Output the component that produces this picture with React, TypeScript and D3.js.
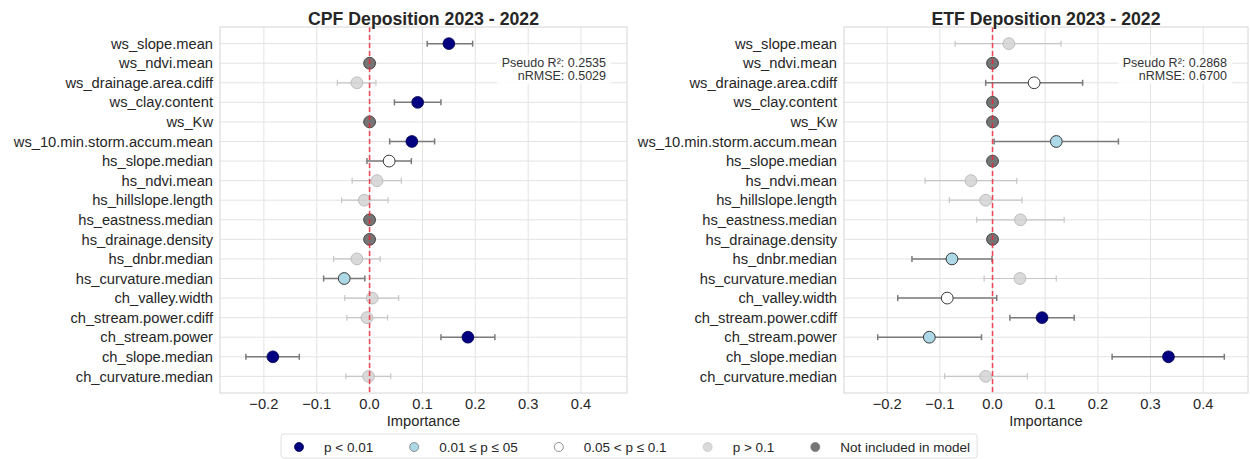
import React from "react";
import * as d3 from "d3";

// Predictor names, top to bottom
const categories = [
  "ws_slope.mean",
  "ws_ndvi.mean",
  "ws_drainage.area.cdiff",
  "ws_clay.content",
  "ws_Kw",
  "ws_10.min.storm.accum.mean",
  "hs_slope.median",
  "hs_ndvi.mean",
  "hs_hillslope.length",
  "hs_eastness.median",
  "hs_drainage.density",
  "hs_dnbr.median",
  "hs_curvature.median",
  "ch_valley.width",
  "ch_stream.power.cdiff",
  "ch_stream.power",
  "ch_slope.median",
  "ch_curvature.median",
];

// Significance classes: s01 = p<0.01, s05 = 0.01≤p≤0.05, s10 = 0.05<p≤0.1, ns = p>0.1, ex = not in model
const cpfImportance = [0.150, 0, -0.024, 0.091, 0, 0.080, 0.037, 0.014, -0.010, 0, 0, -0.024, -0.048, 0.005, -0.005, 0.186, -0.183, -0.002];
const cpfLower = [0.109, null, -0.061, 0.047, null, 0.038, -0.005, -0.033, -0.053, null, null, -0.068, -0.087, -0.047, -0.043, 0.135, -0.234, -0.045];
const cpfUpper = [0.195, null, 0.012, 0.135, null, 0.123, 0.079, 0.060, 0.035, null, null, 0.020, -0.009, 0.055, 0.034, 0.237, -0.133, 0.040];
const cpfClass = ["s01", "ex", "ns", "s01", "ex", "s01", "s10", "ns", "ns", "ex", "ex", "ns", "s05", "ns", "ns", "s01", "s01", "ns"];

const etfImportance = [0.031, 0, 0.079, 0, 0, 0.121, 0, -0.041, -0.013, 0.053, 0, -0.077, 0.052, -0.086, 0.094, -0.120, 0.334, -0.013];
const etfLower = [-0.071, null, -0.013, null, null, 0.003, null, -0.128, -0.082, -0.030, null, -0.153, -0.016, -0.180, 0.033, -0.218, 0.227, -0.091];
const etfUpper = [0.130, null, 0.171, null, null, 0.239, null, 0.046, 0.056, 0.136, null, -0.001, 0.121, 0.008, 0.155, -0.021, 0.440, 0.066];
const etfClass = ["ns", "ex", "s10", "ex", "ex", "s05", "ex", "ns", "ns", "ns", "ex", "s05", "ns", "s10", "s01", "s05", "s01", "ns"];

const xTicks = [-0.2, -0.1, 0.0, 0.1, 0.2, 0.3, 0.4];

const legendClasses = ["s01", "s05", "s10", "ns", "ex"];
const legendLabels = ["p < 0.01", "0.01 ≤ p ≤ 05", "0.05 < p ≤ 0.1", "p > 0.1", "Not included in model"];

const FONT = "'Liberation Sans', Arial, sans-serif";
const TEXT = "#262626";
const LABEL_SIZE = 14.7;

const markerStyle: Record<string, { fill: string; stroke: string; opacity: number; sw: number }> = {
  s01: { fill: "#000080", stroke: "#00004d", opacity: 1, sw: 0.8 },
  s05: { fill: "#add8e6", stroke: "#3a3a3a", opacity: 1, sw: 1 },
  s10: { fill: "#ffffff", stroke: "#3a3a3a", opacity: 1, sw: 1 },
  ns: { fill: "#d3d3d3", stroke: "#bdbdbd", opacity: 0.85, sw: 1 },
  ex: { fill: "#666666", stroke: "#444444", opacity: 0.9, sw: 1 },
};

type PanelProps = {
  title: string;
  x0: number;
  x1: number;
  domain: [number, number];
  values: number[];
  lower: (number | null)[];
  upper: (number | null)[];
  classes: string[];
  r2: string;
  nrmse: string;
};

const Y0 = 27;
const Y1 = 393;

function Panel({ title, x0, x1, domain, values, lower, upper, classes, r2, nrmse }: PanelProps) {
  const x = d3.scaleLinear().domain(domain).range([x0, x1]);
  const y = d3.scalePoint<string>().domain(categories).range([Y0, Y1]).padding(0.85);
  const cx = (x0 + x1) / 2;

  return (
    <g>
      <rect x={x0} y={Y0} width={x1 - x0} height={Y1 - Y0} fill="#ffffff" />
      {/* grid */}
      {xTicks.map((t) => (
        <line key={"gx" + t} x1={x(t)} x2={x(t)} y1={Y0} y2={Y1} stroke="#e3e3e3" strokeWidth={1} />
      ))}
      {categories.map((c) => (
        <line key={"gy" + c} x1={x0} x2={x1} y1={y(c)} y2={y(c)} stroke="#e3e3e3" strokeWidth={1} />
      ))}
      {/* error bars */}
      {categories.map((c, i) => {
        const lo = lower[i];
        const hi = upper[i];
        if (lo == null || hi == null) return null;
        const yy = y(c)!;
        const col = classes[i] === "ns" ? "#c6c6c6" : "#7a7a7a";
        const w = classes[i] === "ns" ? 1.2 : 1.5;
        return (
          <g key={"e" + c} stroke={col} strokeWidth={w}>
            <line x1={x(lo)} x2={x(hi)} y1={yy} y2={yy} />
            <line x1={x(lo)} x2={x(lo)} y1={yy - 3} y2={yy + 3} />
            <line x1={x(hi)} x2={x(hi)} y1={yy - 3} y2={yy + 3} />
          </g>
        );
      })}
      {/* points */}
      {categories.map((c, i) => {
        const s = markerStyle[classes[i]];
        return (
          <circle
            key={"p" + c}
            cx={x(values[i])}
            cy={y(c)}
            r={5.9}
            fill={s.fill}
            fillOpacity={s.opacity}
            stroke={s.stroke}
            strokeWidth={s.sw}
          />
        );
      })}
      {/* zero reference */}
      <line x1={x(0)} x2={x(0)} y1={Y0} y2={Y1} stroke="#f0203a" strokeOpacity={0.8} strokeWidth={1.6} strokeDasharray="5,3" />
      {/* fit statistics */}
      <rect x={x1 - 130} y={55} width={114} height={29} fill="#ffffff" fillOpacity={0.85} />
      <text x={x1 - 21} y={67} textAnchor="end" fontFamily={FONT} fontSize={12.5} fill="#333">
        {"Pseudo R²: " + r2}
      </text>
      <text x={x1 - 21} y={80} textAnchor="end" fontFamily={FONT} fontSize={12.5} fill="#333">
        {"nRMSE: " + nrmse}
      </text>
      {/* frame */}
      <rect x={x0} y={Y0} width={x1 - x0} height={Y1 - Y0} fill="none" stroke="#d6d6d6" strokeWidth={1} />
      {/* y labels */}
      {categories.map((c) => (
        <text key={"yl" + c} x={x0 - 7} y={y(c)} dy="0.35em" textAnchor="end" fontFamily={FONT} fontSize={LABEL_SIZE} fill={TEXT}>
          {c}
        </text>
      ))}
      {/* x ticks */}
      {xTicks.map((t) => (
        <text key={"xl" + t} x={x(t)} y={409} textAnchor="middle" fontFamily={FONT} fontSize={LABEL_SIZE} fill={TEXT}>
          {d3.format(".1f")(t).replace("-", "−")}
        </text>
      ))}
      <text x={cx} y={426} textAnchor="middle" fontFamily={FONT} fontSize={LABEL_SIZE} fill={TEXT}>
        Importance
      </text>
      <text x={cx} y={25} textAnchor="middle" fontFamily={FONT} fontSize={17.7} fontWeight="bold" fill={TEXT}>
        {title}
      </text>
    </g>
  );
}

function Legend() {
  const fontSize = 13.5;
  let widths: number[] = legendLabels.map((l) => l.length * 7);
  try {
    const ctx = document.createElement("canvas").getContext("2d");
    if (ctx) {
      ctx.font = `${fontSize}px 'Liberation Sans', Arial, sans-serif`;
      widths = legendLabels.map((l) => ctx.measureText(l).width);
    }
  } catch (e) {
    /* fall back to estimates */
  }
  const items: { cx: number; tx: number }[] = [];
  let cursor = 299;
  widths.forEach((w) => {
    items.push({ cx: cursor, tx: cursor + 25 });
    cursor = cursor + 25 + w + 41;
  });
  const boxX0 = 281;
  const boxX1 = items[items.length - 1].tx + widths[widths.length - 1] + 7;
  const cy = 447;
  const legendStroke: Record<string, string> = { s01: "#00004d", s05: "#777", s10: "#777", ns: "#c8c8c8", ex: "#7a7a7a" };
  return (
    <g>
      <rect x={boxX0} y={434} width={boxX1 - boxX0} height={24} rx={3} fill="#ffffff" stroke="#e0e0e0" strokeWidth={1} />
      {legendClasses.map((k, i) => {
        const s = markerStyle[k];
        return (
          <g key={k}>
            <circle cx={items[i].cx} cy={cy} r={4.5} fill={s.fill} fillOpacity={s.opacity} stroke={legendStroke[k]} strokeWidth={0.8} />
            <text x={items[i].tx} y={cy} dy="0.35em" fontFamily={FONT} fontSize={fontSize} fill={TEXT}>
              {legendLabels[i]}
            </text>
          </g>
        );
      })}
    </g>
  );
}

export default function App() {
  return (
    <svg
      width={1250}
      height={459}
      viewBox="0 0 1250 459"
      style={{ position: "absolute", left: 0, top: 0, background: "#ffffff" }}
    >
      <rect width={1250} height={459} fill="#ffffff" />
      <Panel
        title="CPF Deposition 2023 - 2022"
        x0={220}
        x1={627}
        domain={[-0.283, 0.487]}
        values={cpfImportance}
        lower={cpfLower}
        upper={cpfUpper}
        classes={cpfClass}
        r2="0.2535"
        nrmse="0.5029"
      />
      <Panel
        title="ETF Deposition 2023 - 2022"
        x0={844}
        x1={1248}
        domain={[-0.282, 0.485]}
        values={etfImportance}
        lower={etfLower}
        upper={etfUpper}
        classes={etfClass}
        r2="0.2868"
        nrmse="0.6700"
      />
      <Legend />
    </svg>
  );
}
